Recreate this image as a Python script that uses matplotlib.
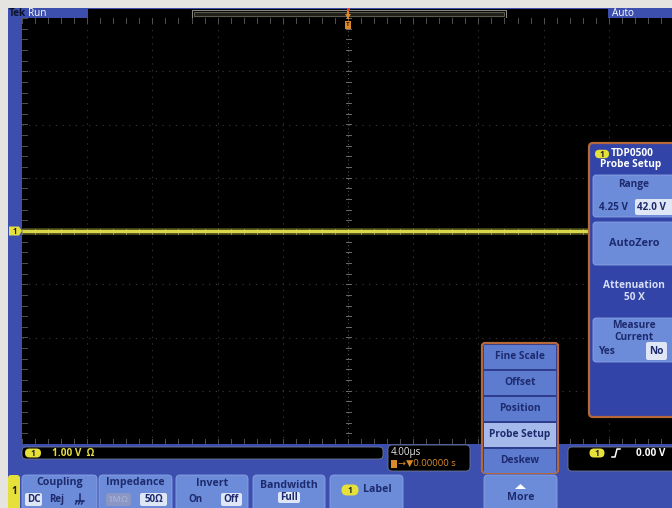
import matplotlib
matplotlib.use("Agg")
import matplotlib.pyplot as plt
from matplotlib.patches import FancyBboxPatch, Rectangle, Polygon
import numpy as np

plt.rcParams['font.family'] = ['Open Sans', 'DejaVu Sans']

# ---- data ----
timebase_us_per_div = 4.0
volts_per_div = 1.00
trace_time_us = [-20.0, 20.0]
trace_volts = [0.0, 0.0]
trigger_level = "0.00 V"
trigger_pos = "0.00000 s"
menu_items = ["Fine Scale", "Offset", "Position", "Probe Setup", "Deskew"]
selected_menu = "Probe Setup"
bottom_buttons = ["Coupling", "Impedance", "Invert", "Bandwidth", "Label"]
probe_name = "TDP0500"
range_opts = ["4.25 V", "42.0 V"]
attenuation = "50 X"

# ---- colours ----
BG = '#e6e4e0'
FRAME = '#3d4fae'
BTN = '#6c8bd8'
BTN_EDGE = '#8aa4e4'
HILITE = '#dfe6f6'
NAVY = '#1d2a6e'
YEL = '#e6e03a'
TRACE = '#d9d84a'
ORANGE = '#d88a2a'
PANEL_EDGE = '#b5683a'

W, H = 672, 508
fig = plt.figure(figsize=(W / 100, H / 100), dpi=100, facecolor=BG)

ax = fig.add_axes([0, 0, 1, 1], zorder=0)
ax.set_xlim(0, W); ax.set_ylim(H, 0); ax.axis('off')

ov = fig.add_axes([0, 0, 1, 1], zorder=3)
ov.set_xlim(0, W); ov.set_ylim(H, 0); ov.axis('off'); ov.patch.set_alpha(0)


def box(a, x0, y0, x1, y1, fc, ec='none', lw=0, r=3, z=1):
    a.add_patch(FancyBboxPatch((x0, y0), x1 - x0, y1 - y0,
                               boxstyle=f"round,pad=0,rounding_size={r}",
                               fc=fc, ec=ec, lw=lw, zorder=z))


def txt(a, x, y, s, c=NAVY, fs=7.6, ha='center', w='bold', z=5):
    a.text(x, y, s, color=c, fontsize=fs, ha=ha, va='center',
           fontweight=w, zorder=z)


def badge(a, x, y, w=15, h=9, fc=YEL, tc='#202020', fs=6.0, label='1', z=6):
    a.add_patch(FancyBboxPatch((x - w / 2, y - h / 2), w, h,
                               boxstyle=f"round,pad=0,rounding_size={h/2}",
                               fc=fc, ec='none', zorder=z))
    a.text(x, y + 0.3, label, color=tc, fontsize=fs, ha='center', va='center',
           fontweight='bold', zorder=z + 1)


# frame
ax.add_patch(Rectangle((8, 8), W - 8, H - 8, fc=FRAME, ec='none', zorder=0))

# top bar
txt(ax, 8.5, 13, "Tek", c='#0c1228', fs=7.2, ha='left')
txt(ax, 28, 13, "Run", c='white', fs=7.2, ha='left', w='normal')
ax.add_patch(Rectangle((88, 9), 520, 9, fc='black', ec='none', zorder=1))
ax.add_patch(Rectangle((192, 9.5), 314, 8, fc='none', ec='#8a8a80', lw=0.8, zorder=2))
ax.add_patch(Rectangle((194, 11.5), 310, 4, fc='#202018', ec='#6a6a60', lw=0.6, zorder=2))
txt(ax, 612, 13, "Auto", c='white', fs=7.2, ha='left', w='normal')

# graticule axes
gx0, gx1, gy0, gy1 = 22, 674, 18, 444
gax = fig.add_axes([gx0 / W, 1 - gy1 / H, (gx1 - gx0) / W, (gy1 - gy0) / H], zorder=1)
gax.set_facecolor('black')
xlim = 5 * timebase_us_per_div
ylim = 4 * volts_per_div
gax.set_xlim(-xlim, xlim); gax.set_ylim(-ylim, ylim)
gax.set_xticks([]); gax.set_yticks([])
for s in gax.spines.values():
    s.set_visible(False)
gcol = '#3c3c3c'
for i in range(-4, 5):
    if i == 0:
        continue
    gax.axvline(i * timebase_us_per_div, color=gcol, lw=0.8, ls=(0, (1, 5)))
for j in range(-3, 4):
    if j == 0:
        continue
    gax.axhline(j * volts_per_div, color=gcol, lw=0.8, ls=(0, (1, 5)))
# centre cross with minor ticks
gax.axvline(0, color='#5a5a5a', lw=0.7, ls=(0, (1, 3)))
gax.axhline(0, color='#5a5a5a', lw=0.7, ls=(0, (1, 3)))
tx = np.arange(-xlim, xlim + 1e-9, timebase_us_per_div / 5)
ty = np.arange(-ylim, ylim + 1e-9, volts_per_div / 5)
dx = 2.5 * (2 * xlim) / (gx1 - gx0)
dy = 2.5 * (2 * ylim) / (gy1 - gy0)
tick_c = '#6a6a6a'
for t in tx:
    gax.plot([t, t], [-dy, dy], color=tick_c, lw=0.7)
    gax.plot([t, t], [ylim, ylim - 2 * dy], color='#505050', lw=0.7)
    gax.plot([t, t], [-ylim, -ylim + 2 * dy], color='#505050', lw=0.7)
for t in ty:
    gax.plot([-dx, dx], [t, t], color=tick_c, lw=0.7)
    gax.plot([-xlim, -xlim + 2 * dx], [t, t], color='#505050', lw=0.7)

# trace
gax.plot(trace_time_us, trace_volts, color=TRACE, lw=5, alpha=0.3, solid_capstyle='butt')
gax.plot(trace_time_us, trace_volts, color=TRACE, lw=2.4, solid_capstyle='butt')

# trigger position marker (top)
ov.plot([348, 348], [9, 18], color=ORANGE, lw=1.5, zorder=4)
ov.add_patch(Polygon([[345, 14], [351, 14], [348, 19]], closed=True, fc=ORANGE, ec='none', zorder=4))
ov.add_patch(Rectangle((345, 21), 6, 8, fc=ORANGE, ec='none', zorder=4))
ov.text(348, 25, "T", color='#402000', fontsize=4.5, ha='center', va='center', fontweight='bold', zorder=5)
ov.add_patch(Rectangle((346.5, 8), 3, 3, fc='#e04030', ec='none', zorder=5))

# channel 1 ground marker (left)
gy_zero = gy0 + (gy1 - gy0) * (ylim - 0) / (2 * ylim)
ov.add_patch(Polygon([[9, gy_zero - 4.5], [19, gy_zero - 4.5], [22, gy_zero],
                      [19, gy_zero + 4.5], [9, gy_zero + 4.5]], closed=True,
                     fc=YEL, ec='none', zorder=5))
ov.text(14.5, gy_zero + 0.3, "1", color='#202020', fontsize=5.5, ha='center', va='center',
        fontweight='bold', zorder=6)

# status bar
box(ov, 22, 447, 383, 459, 'black', ec='#707890', lw=0.6, r=4)
badge(ov, 33, 453, w=16, h=9)
txt(ov, 52, 453, f"{volts_per_div:.2f} V  Ω", c=YEL, fs=7.2, ha='left')

# timebase box
box(ov, 388, 445, 470, 471, 'black', ec='#707890', lw=0.6, r=4)
txt(ov, 391, 452, f"{timebase_us_per_div:.2f}µs", c='#e8e8e8', fs=7.0, ha='left', w='normal')
ov.add_patch(Rectangle((391, 459.5), 6, 8, fc=ORANGE, ec='none', zorder=6))
txt(ov, 398, 463.5, "→▼" + trigger_pos, c=ORANGE, fs=6.8, ha='left', w='normal')

# trigger box
box(ov, 568, 447, 690, 471, 'black', ec='#707890', lw=0.6, r=4)
badge(ov, 597, 453, w=15, h=9)
ov.plot([612, 615, 617, 620], [457, 457, 449, 449], color='white', lw=1.1, zorder=6)
txt(ov, 636, 453, trigger_level, c='white', fs=7.2, ha='left')

# bottom yellow tab
box(ov, 8, 475, 20, 520, YEL, r=3)
txt(ov, 14, 492, "1", c='#202020', fs=7.2)

# bottom buttons
bx = [(22, 97), (99, 172), (176, 248), (253, 325), (330, 403)]
for (x0, x1), name in zip(bx, bottom_buttons):
    box(ov, x0, 475, x1, 520, BTN, ec=BTN_EDGE, lw=0.6, r=4)

# Coupling
txt(ov, 59.5, 483, bottom_buttons[0])
box(ov, 25, 493, 42, 506, HILITE, r=2)
txt(ov, 33.5, 499.5, "DC", fs=7.0)
txt(ov, 57, 499.5, "Rej", fs=7.0)
# ground symbol
ov.plot([80, 80], [494, 501], color=NAVY, lw=1.1, zorder=6)
ov.plot([76, 84], [501, 501], color=NAVY, lw=1.1, zorder=6)
for k in range(3):
    ov.plot([77 + 3 * k, 75.5 + 3 * k], [501, 504], color=NAVY, lw=1.0, zorder=6)

# Impedance
txt(ov, 135.5, 483, bottom_buttons[1])
box(ov, 106, 493, 131, 506, '#8a96c4', r=2)
txt(ov, 118.5, 499.5, "1MΩ", c='#a3acd0', fs=6.6)
box(ov, 140, 493, 167, 506, HILITE, r=2)
txt(ov, 153.5, 499.5, "50Ω", fs=7.0)

# Invert
txt(ov, 212, 483, bottom_buttons[2])
txt(ov, 195, 499.5, "On", fs=7.0)
box(ov, 221, 493, 242, 506, HILITE, r=2)
txt(ov, 231.5, 499.5, "Off", fs=7.0)

# Bandwidth
txt(ov, 289, 486, bottom_buttons[3])
box(ov, 278, 492, 300, 503, HILITE, r=2)
txt(ov, 289, 497.5, "Full", fs=7.0)

# Label
badge(ov, 350, 490, w=17, h=11)
txt(ov, 377, 490, bottom_buttons[4], fs=7.6)

# More
box(ov, 484, 475, 557, 520, BTN, ec=BTN_EDGE, lw=0.6, r=4)
ov.add_patch(Polygon([[515, 489], [526, 489], [520.5, 484]], closed=True, fc='white', ec='none', zorder=6))
txt(ov, 520.5, 497.5, "More", fs=7.6)

# popup menu
box(ov, 482, 343, 558, 473, '#2e3c8c', ec=PANEL_EDGE, lw=1.6, r=3, z=2)
item_h = 26
for i, name in enumerate(menu_items):
    y0 = 344.5 + i * item_h
    fc = '#a5b9ea' if name == selected_menu else '#5d7cd0'
    ov.add_patch(Rectangle((484, y0), 72, item_h - 1.5, fc=fc, ec='none', zorder=3))
    txt(ov, 520, y0 + (item_h - 1.5) / 2, name, fs=7.3)

# right probe panel
box(ov, 589, 143, 690, 417, '#3344a8', ec=PANEL_EDGE, lw=1.6, r=4, z=2)
badge(ov, 602, 154, w=14, h=8.5)
txt(ov, 611, 154, probe_name, c='white', fs=7.3, ha='left')
txt(ov, 631, 165, "Probe Setup", c='white', fs=7.3)
# Range button
box(ov, 593, 175, 690, 217, BTN, ec=BTN_EDGE, lw=0.6, r=3, z=3)
txt(ov, 634, 184, "Range", fs=7.3)
txt(ov, 613, 207, range_opts[0], fs=7.1)
box(ov, 635, 199, 690, 215, HILITE, r=2, z=4)
txt(ov, 637, 207, range_opts[1], fs=7.1, ha='left')
# AutoZero
box(ov, 593, 222, 690, 265, BTN, ec=BTN_EDGE, lw=0.6, r=3, z=3)
txt(ov, 634, 243, "AutoZero", fs=7.8)
# Attenuation
txt(ov, 634, 286, "Attenuation", c='#d6def6', fs=7.3)
txt(ov, 634, 297, attenuation, c='#d6def6', fs=7.3)
# Measure current
box(ov, 593, 318, 690, 362, BTN, ec=BTN_EDGE, lw=0.6, r=3, z=3)
txt(ov, 634, 326, "Measure", fs=7.3)
txt(ov, 634, 337, "Current", fs=7.3)
txt(ov, 606, 351, "Yes", fs=7.3)
box(ov, 646, 342, 667, 360, HILITE, r=2, z=4)
txt(ov, 656.5, 351, "No", fs=7.3)

fig.savefig("out.png", dpi=100, facecolor=BG)
